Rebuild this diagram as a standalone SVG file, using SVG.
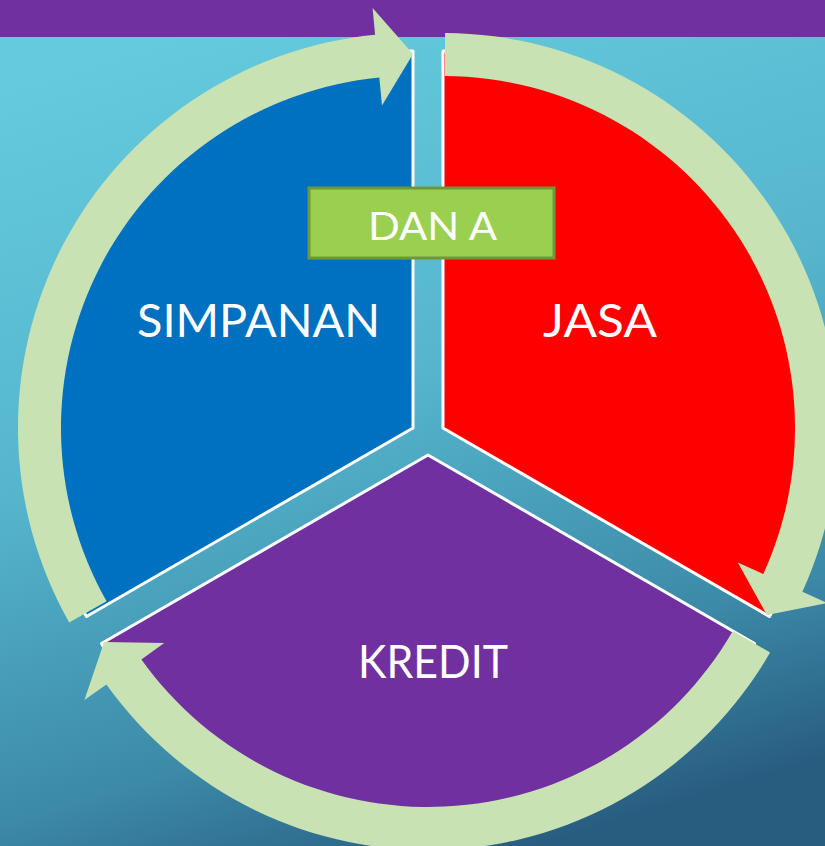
<svg xmlns="http://www.w3.org/2000/svg" width="825" height="846" viewBox="0 0 825 846">
<defs>
<linearGradient id="bg" x1="0.35" y1="0" x2="0.65" y2="1">
<stop offset="0" stop-color="#65CADD"/>
<stop offset="0.45" stop-color="#55B5CD"/>
<stop offset="0.8" stop-color="#3C89A8"/>
<stop offset="1" stop-color="#285D80"/>
</linearGradient>
<style>
.seg{stroke:#FFFFFF;stroke-width:3;stroke-linejoin:round}
.arrow{fill:#C9E2B4}
.lbl{font-family:Lato,"Open Sans","Liberation Sans",sans-serif;fill:#FFFFFF;text-anchor:middle}
</style>
</defs>
<rect x="0" y="0" width="825" height="846" fill="url(#bg)"/>
<rect x="0" y="0" width="825" height="37" fill="#7030A0"/>
<g id="simpanan">
<path class="seg" fill="#0070C0" d="M413,428 L86.5,616.5 A377,377 0 0 1 413,51 Z"/>
<text class="lbl" x="258.5" y="337" font-size="46" textLength="243" lengthAdjust="spacingAndGlyphs">SIMPANAN</text>
</g>
<g id="jasa">
<path class="seg" fill="#FF0000" d="M443,428 L443,51 A377,377 0 0 1 769.5,616.5 Z"/>
<text class="lbl" x="600" y="337" font-size="46" textLength="114" lengthAdjust="spacingAndGlyphs">JASA</text>
</g>
<g id="kredit">
<path class="seg" fill="#7030A0" d="M428,455 L754.5,643.5 A377,377 0 0 1 101.5,643.5 Z"/>
<text class="lbl" x="433" y="678" font-size="46" textLength="150" lengthAdjust="spacingAndGlyphs">KREDIT</text>
</g>
<g id="connectors">
<path class="arrow" d="M69.2,622.5 A395,395 0 0 1 375.1,34.8 L372.6,7.9 L413,54 L382.0,105.5 L379.3,77.6 A352,352 0 0 0 106.6,601.3 Z"/>
<path class="arrow" d="M445.1,33 A395,395 0 0 1 802.4,591.8 L827.0,603.0 L766.9,615 L737.8,562.4 L763.3,574.0 A352,352 0 0 0 444.8,76 Z"/>
<path class="arrow" d="M770.1,652.5 A395,395 0 0 1 106.4,684.4 L84.4,700.1 L104.1,642 L164.2,643.1 L141.4,659.4 A352,352 0 0 0 732.8,631 Z"/>
</g>
<g id="dana">
<rect x="309" y="188" width="245" height="70" fill="#9BCF50" stroke="#6E9838" stroke-width="3"/>
<text class="lbl" x="432.5" y="240" font-size="39" textLength="129" lengthAdjust="spacingAndGlyphs">DAN A</text>
</g>
</svg>
